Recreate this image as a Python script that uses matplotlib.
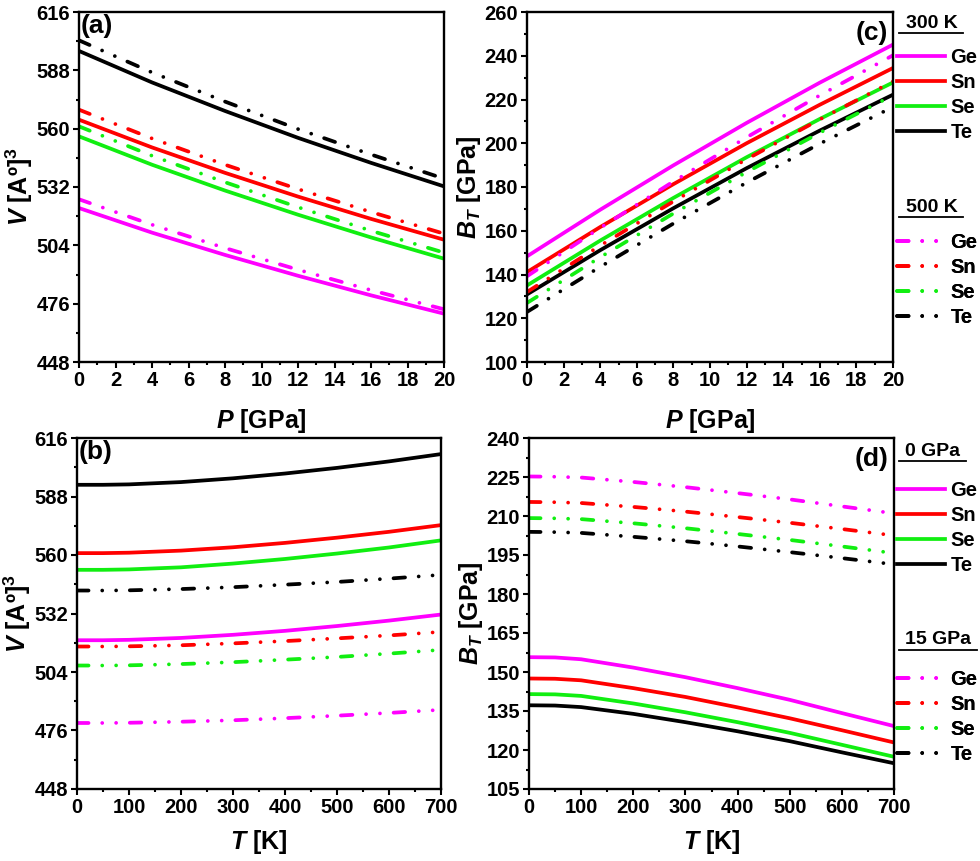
import matplotlib.pyplot as plt
from matplotlib.lines import Line2D
from matplotlib.ticker import MultipleLocator

plt.rcParams['font.family'] = ['Liberation Sans', 'DejaVu Sans']
plt.rcParams['font.weight'] = 'bold'
plt.rcParams['axes.labelweight'] = 'bold'
plt.rcParams['mathtext.fontset'] = 'custom'
plt.rcParams['mathtext.rm'] = 'Liberation Sans:bold'
plt.rcParams['mathtext.it'] = 'Liberation Sans:italic:bold'
plt.rcParams['mathtext.bf'] = 'Liberation Sans:bold'
plt.rcParams['lines.scale_dashes'] = False

elementos = ['Ge', 'Sn', 'Se', 'Te']
colores = {'Ge': '#ff00ff', 'Sn': '#ff0000', 'Se': '#11ee11', 'Te': '#000000'}

# presion (GPa) y temperatura (K)
P = [0, 4, 8, 12, 16, 20]
T = [0, 50, 100, 200, 300, 400, 500, 600, 700]

# (a) volumen vs presion
V_P_300K = {
    'Ge': [521.9, 510.1, 499.4, 489.4, 480.0, 471.2],
    'Sn': [564.3, 551.0, 538.8, 527.4, 516.7, 506.7],
    'Se': [556.3, 542.7, 530.3, 518.7, 507.8, 497.6],
    'Te': [597.3, 582.2, 568.5, 555.6, 543.6, 532.3],
}
V_P_500K = {
    'Ge': [526.1, 513.9, 502.7, 492.3, 482.5, 473.3],
    'Sn': [569.1, 555.3, 542.7, 531.0, 520.0, 509.6],
    'Se': [561.1, 547.0, 534.3, 522.3, 511.0, 500.5],
    'Te': [602.4, 587.0, 573.0, 559.8, 547.6, 536.0],
}

# (c) modulo volumetrico vs presion
B_P_300K = {
    'Ge': [148.3, 169.6, 189.9, 209.3, 227.7, 245.1],
    'Sn': [141.1, 161.7, 181.3, 200.0, 217.6, 234.4],
    'Se': [135.0, 155.5, 175.0, 193.6, 211.1, 227.8],
    'Te': [130.9, 151.1, 170.3, 188.6, 205.8, 222.2],
}
B_P_500K = {
    'Ge': [139.2, 161.3, 182.5, 202.7, 221.9, 240.2],
    'Sn': [132.0, 153.2, 173.4, 192.7, 210.9, 228.3],
    'Se': [127.0, 147.9, 167.9, 186.8, 204.8, 221.9],
    'Te': [122.9, 143.5, 163.3, 182.0, 199.8, 216.6],
}

# (b) volumen vs temperatura
V_T_0GPa = {
    'Ge': [519.2, 519.2, 519.4, 520.3, 521.8, 523.7, 526.0, 528.6, 531.5],
    'Sn': [560.9, 560.9, 561.1, 562.1, 563.7, 565.8, 568.3, 571.1, 574.3],
    'Se': [552.9, 552.9, 553.1, 554.1, 555.9, 558.1, 560.7, 563.6, 567.0],
    'Te': [593.6, 593.6, 593.8, 594.9, 596.7, 599.0, 601.7, 604.8, 608.3],
}
V_T_15GPa = {
    'Ge': [479.6, 479.6, 479.7, 480.2, 480.9, 481.9, 483.1, 484.4, 485.9],
    'Sn': [516.2, 516.2, 516.3, 516.8, 517.7, 518.8, 520.1, 521.5, 523.2],
    'Se': [507.1, 507.1, 507.2, 507.8, 508.7, 509.9, 511.2, 512.8, 514.6],
    'Te': [543.0, 543.0, 543.1, 543.7, 544.6, 545.8, 547.1, 548.7, 550.5],
}

# (d) modulo volumetrico vs temperatura
B_T_0GPa = {
    'Ge': [155.7, 155.6, 154.9, 151.7, 148.0, 143.8, 139.3, 134.2, 129.2],
    'Sn': [147.5, 147.4, 146.8, 143.8, 140.4, 136.4, 132.2, 127.6, 122.9],
    'Se': [141.5, 141.4, 140.8, 137.9, 134.5, 130.7, 126.6, 122.0, 117.4],
    'Te': [137.2, 137.1, 136.5, 133.9, 130.7, 127.2, 123.4, 119.1, 114.9],
}
B_T_15GPa = {
    'Ge': [225.2, 225.1, 224.8, 223.1, 221.1, 218.8, 216.4, 213.7, 211.0],
    'Sn': [215.4, 215.3, 215.0, 213.5, 211.7, 209.6, 207.4, 205.0, 202.5],
    'Se': [209.2, 209.1, 208.8, 207.2, 205.3, 203.1, 200.8, 198.3, 195.7],
    'Te': [203.9, 203.8, 203.5, 202.0, 200.3, 198.3, 196.1, 193.8, 191.4],
}

# raya - punto - punto
RAYA_PUNTOS = (0, (8.3, 9.85, 0.01, 10, 0.01, 9.85))
LW = 2.7

W, H = 980, 861
fig = plt.figure(figsize=(W / 100, H / 100), dpi=100)


def ejes(x0, x1, y0, y1):
    ax = fig.add_axes([x0 / W, 1 - y1 / H, (x1 - x0) / W, (y1 - y0) / H])
    for s in ax.spines.values():
        s.set_linewidth(1.7)
    ax.tick_params(which='both', direction='out', width=1.5, labelsize=14.5,
                   top=False, right=False, pad=2)
    ax.tick_params(which='major', length=4.5)
    ax.tick_params(which='minor', length=2.5)
    return ax


def dibujar(ax, x, solidas, rayadas):
    ls, lr = [], []
    for el in elementos:
        l, = ax.plot(x, solidas[el], color=colores[el], lw=LW)
        ls.append(l)
    for el in elementos:
        l, = ax.plot(x, rayadas[el], color=colores[el], lw=LW,
                     linestyle=RAYA_PUNTOS, dash_capstyle='round')
        lr.append(l)
    return ls, lr


def leyenda(ax, handles, y_px):
    leg = ax.legend(handles, elementos, loc='upper left',
                    bbox_to_anchor=(897 / W, 1 - y_px / H),
                    bbox_transform=fig.transFigure, frameon=False,
                    handlelength=2.4, handletextpad=0.25, labelspacing=0.3,
                    borderpad=0, borderaxespad=0,
                    prop={'size': 14.5, 'weight': 'bold'})
    ax.add_artist(leg)


def encabezado(texto, x_px, y_px, x_fin):
    fig.text(x_px / W, 1 - y_px / H, texto, ha='center', va='center',
             fontsize=14, fontweight='bold')
    fig.add_artist(Line2D([899 / W, x_fin / W], [1 - (y_px + 10) / H] * 2,
                          transform=fig.transFigure, color='k', lw=1.3))


# (a)
ax_a = ejes(79, 444, 12, 362)
dibujar(ax_a, P, V_P_300K, V_P_500K)
ax_a.set_xlim(0, 20)
ax_a.set_ylim(448, 616)
ax_a.xaxis.set_major_locator(MultipleLocator(2))
ax_a.xaxis.set_minor_locator(MultipleLocator(1))
ax_a.yaxis.set_major_locator(MultipleLocator(28))
ax_a.yaxis.set_minor_locator(MultipleLocator(14))
ax_a.set_xlabel(r'$P$ [GPa]', fontsize=18, labelpad=12)
ax_a.set_ylabel(r'$V$ [Aº]$^3$', fontsize=18, labelpad=1)
ax_a.text(0.005, 0.995, '(a)', transform=ax_a.transAxes, fontsize=19,
          va='top', ha='left')

# (c)
ax_c = ejes(527, 893, 12, 362)
sol_c, ray_c = dibujar(ax_c, P, B_P_300K, B_P_500K)
ax_c.set_xlim(0, 20)
ax_c.set_ylim(100, 260)
ax_c.xaxis.set_major_locator(MultipleLocator(2))
ax_c.xaxis.set_minor_locator(MultipleLocator(1))
ax_c.yaxis.set_major_locator(MultipleLocator(20))
ax_c.yaxis.set_minor_locator(MultipleLocator(10))
ax_c.set_xlabel(r'$P$ [GPa]', fontsize=18, labelpad=12)
ax_c.set_ylabel(r'$B_T$ [GPa]', fontsize=18, labelpad=1)
ax_c.text(0.985, 0.975, '(c)', transform=ax_c.transAxes, fontsize=19,
          va='top', ha='right')
encabezado('300 K', 932, 23, 963)
leyenda(ax_c, sol_c, 48)
encabezado('500 K', 932, 207, 963)
leyenda(ax_c, ray_c, 233)

# (b)
ax_b = ejes(77, 441, 438, 789)
dibujar(ax_b, T, V_T_0GPa, V_T_15GPa)
ax_b.set_xlim(0, 700)
ax_b.set_ylim(448, 616)
ax_b.xaxis.set_major_locator(MultipleLocator(100))
ax_b.xaxis.set_minor_locator(MultipleLocator(50))
ax_b.yaxis.set_major_locator(MultipleLocator(28))
ax_b.yaxis.set_minor_locator(MultipleLocator(14))
ax_b.set_xlabel(r'$T$ [K]', fontsize=18, labelpad=8)
ax_b.set_ylabel(r'$V$ [Aº]$^3$', fontsize=18, labelpad=1)
ax_b.text(0.005, 0.995, '(b)', transform=ax_b.transAxes, fontsize=19,
          va='top', ha='left')

# (d)
ax_d = ejes(529, 894, 438, 789)
sol_d, ray_d = dibujar(ax_d, T, B_T_0GPa, B_T_15GPa)
ax_d.set_xlim(0, 700)
ax_d.set_ylim(105, 240)
ax_d.xaxis.set_major_locator(MultipleLocator(100))
ax_d.xaxis.set_minor_locator(MultipleLocator(50))
ax_d.yaxis.set_major_locator(MultipleLocator(15))
ax_d.yaxis.set_minor_locator(MultipleLocator(7.5))
ax_d.set_xlabel(r'$T$ [K]', fontsize=18, labelpad=8)
ax_d.set_ylabel(r'$B_T$ [GPa]', fontsize=18, labelpad=1)
ax_d.text(0.985, 0.975, '(d)', transform=ax_d.transAxes, fontsize=19,
          va='top', ha='right')
encabezado('0 GPa', 932, 451, 966)
leyenda(ax_d, sol_d, 481)
encabezado('15 GPa', 938, 640, 977)
leyenda(ax_d, ray_d, 670)

fig.savefig('out.png', dpi=100)
